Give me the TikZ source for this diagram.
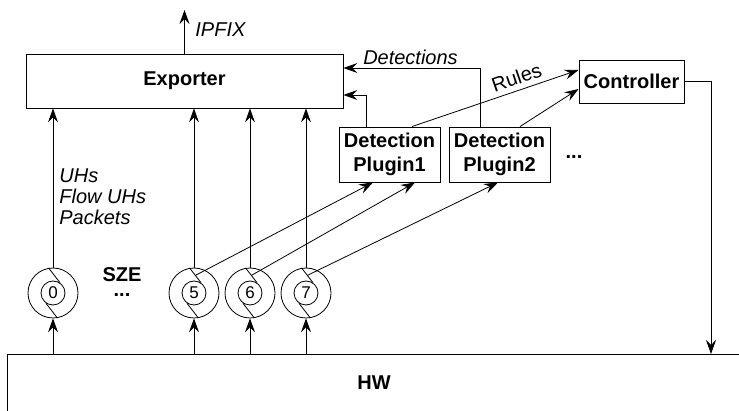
\documentclass[tikz,border=0pt]{standalone}
\usepackage{fontspec}
\setmainfont{Liberation Sans}
\usetikzlibrary{arrows.meta,calc}

\begin{document}
\begin{tikzpicture}[x=1pt,y=-1pt,
  line width=0.8pt,
  arr/.style={-{Stealth[length=14pt,width=10pt,inset=5pt]}},
  box/.style={draw, rectangle, inner sep=0pt, line width=0.9pt,
    font=\fontsize{20}{24}\selectfont\bfseries, align=center},
  bold/.style={inner sep=0pt, font=\fontsize{20}{24}\selectfont\bfseries},
  dots/.style={bold, text height=4pt, text depth=0pt, anchor=base},
  lbl/.style={inner sep=0pt, font=\fontsize{20}{24}\selectfont\itshape},
  plain/.style={inner sep=0pt, font=\fontsize{20}{24}\selectfont},
  ring/.style={draw, circle, minimum size=50pt, inner sep=0pt},
  core/.style={draw, circle, minimum size=24pt, inner sep=0pt,
    font=\fontsize{17}{20}\selectfont},
]
\useasboundingbox (0,0) rectangle (739,411);

% main blocks
\node[box, minimum width=317pt, minimum height=54pt] (exp) at (184.5,81) {Exporter};
\node[box, minimum width=101pt, minimum height=55pt] (p1) at (389.5,154.5) {Detection\\Plugin1};
\node[box, minimum width=101pt, minimum height=55pt] (p2) at (499.5,154.5) {Detection\\Plugin2};
\node[box, minimum width=105pt, minimum height=43pt] (ctrl) at (631.5,81.5) {Controller};
\node[dots] (more) at (574,159) {...};

% hardware block, running past the page edges
\node[draw, rectangle, line width=0.9pt, minimum width=793pt, minimum height=106pt] (hw) at (403.5,407) {};
\node[bold] (hwtext) at (374,383) {HW};

% SZE rings
\foreach \n/\x in {0/53,5/194,6/250,7/306}{
  \node[ring] (s\n) at (\x,293) {};
  \node[core] (c\n) at (\x,293) {\n};
  \draw (s\n.100) -- (c\n.55);
  \draw (c\n.235) -- (s\n.280);
  \coordinate (m\n) at ($(s\n.100)!0.5!(c\n.55)$);
  \draw[arr] (s\n.south |- hw.north) -- (s\n.south);
  \draw[arr] (s\n.north) -- (s\n.north |- exp.south);
}
\node[bold] (sze) at (122,275) {SZE};
\node[dots] (szedots) at (122,297) {...};

% flow labels
\node[lbl, anchor=base west] (uhs) at (59,183) {UHs};
\node[lbl, anchor=base west] (fuhs) at (59,204) {Flow UHs};
\node[lbl, anchor=base west] (pkts) at (59,225) {Packets};

% export output
\coordinate (ipfix) at (184.5,10);
\draw[arr] (exp.north) -- (ipfix);
\node[lbl, anchor=base west] (ipfixlbl) at (195,36.5) {IPFIX};

% rings to plugins
\draw[arr] (m5) -- ([xshift=-16.5pt]p1.south);
\draw[arr] (m6) -- ([xshift=25.5pt]p1.south);
\draw[arr] (m7) -- ([xshift=-1.5pt]p2.south);

% plugins to exporter
\draw[arr] ([xshift=-23.5pt]p1.north) |- ([yshift=-14pt]exp.east);
\draw[arr] ([xshift=-19.5pt]p2.north) |- ([yshift=13pt]exp.east);
\node[lbl, anchor=base] (detlbl) at (410.5,64.5) {Detections};

% plugins to controller
\draw[arr] ([xshift=22.5pt]p1.north) -- ([yshift=11.5pt]ctrl.west);
\draw[arr] ([xshift=20.5pt]p2.north) -- ([yshift=-7.5pt]ctrl.west);
\node[plain, rotate=19, text depth=0pt] (rules) at (516.5,77.5) {Rules};

% controller to hardware
\coordinate (drop) at (711,354);
\draw[arr] (ctrl.east) -| (drop);
\end{tikzpicture}
\end{document}
